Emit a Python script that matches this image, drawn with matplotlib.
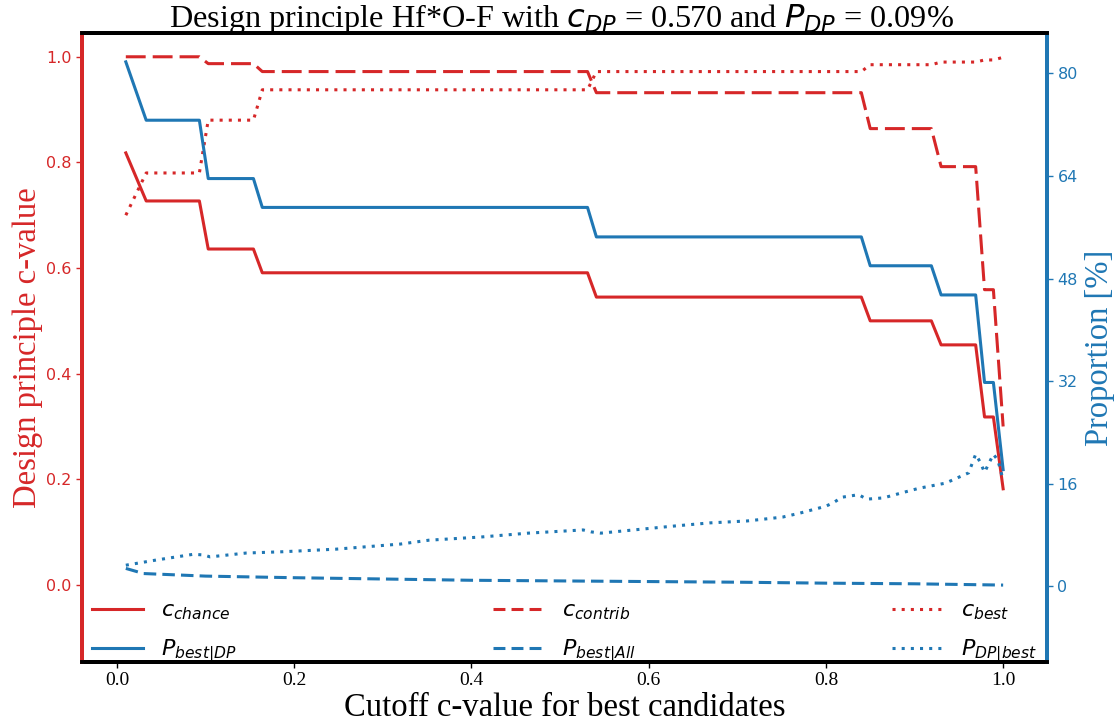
import matplotlib
matplotlib.use("Agg")
import matplotlib.pyplot as plt
from matplotlib.lines import Line2D

RED = "#d62728"
BLUE = "#1f77b4"
SERIF = "Liberation Serif"

# Step-function vertices shared by the c-value curves and P_best|DP
step_x = [0.01, 0.033, 0.093, 0.103, 0.154, 0.164, 0.531, 0.541,
          0.840, 0.850, 0.919, 0.930, 0.969, 0.979, 0.989, 1.000]
c_chance = [0.818, 0.727, 0.727, 0.636, 0.636, 0.591, 0.591, 0.545,
            0.545, 0.500, 0.500, 0.4545, 0.4545, 0.318, 0.318, 0.182]
c_contrib = [1.000, 1.000, 1.000, 0.987, 0.987, 0.972, 0.972, 0.932,
             0.932, 0.864, 0.864, 0.792, 0.792, 0.559, 0.559, 0.300]
c_best = [0.700, 0.780, 0.780, 0.880, 0.880, 0.9375, 0.9375, 0.972,
          0.972, 0.985, 0.985, 0.990, 0.990, 0.994, 0.994, 0.999]
p_best_dp = [81.8, 72.7, 72.7, 63.6, 63.6, 59.1, 59.1, 54.5,
             54.5, 50.0, 50.0, 45.45, 45.45, 31.8, 31.8, 18.2]

# P_best|All (percent)
all_x = [0.01, 0.03, 0.10, 0.20, 0.30, 0.40, 0.50, 0.60, 0.70, 0.80, 0.90, 1.00]
p_best_all = [2.8, 2.0, 1.6, 1.35, 1.15, 0.95, 0.85, 0.75, 0.65, 0.5, 0.4, 0.2]

# P_DP|best (percent)
dpb_x = [0.010, 0.044, 0.086, 0.098, 0.105, 0.146, 0.187, 0.247, 0.320,
         0.352, 0.411, 0.464, 0.526, 0.535, 0.546, 0.568, 0.628, 0.669,
         0.711, 0.751, 0.770, 0.800, 0.809, 0.818, 0.837, 0.846, 0.865,
         0.886, 0.905, 0.935, 0.961, 0.969, 0.974, 0.979, 0.989, 0.994, 1.000]
p_dp_best = [3.3, 4.1, 5.0, 4.9, 4.6, 5.2, 5.4, 5.8, 6.6,
             7.2, 7.7, 8.3, 8.8, 8.5, 8.3, 8.6, 9.4, 9.9,
             10.2, 10.8, 11.4, 12.5, 13.1, 13.9, 14.3, 13.6, 13.8,
             14.6, 15.3, 16.1, 17.7, 20.6, 19.4, 17.8, 20.6, 19.7, 16.6]

right_ticks = [0, 16, 32, 48, 64, 80]
left_ticks = [0.0, 0.2, 0.4, 0.6, 0.8, 1.0]
x_ticks = [0.0, 0.2, 0.4, 0.6, 0.8, 1.0]

LW = 2.2
RED_DASH = (0, (6.5, 2.3))
BLUE_DASH = (0, (4.1, 2.0))
KEY_DASH = (0, (3.9, 2.0))
DOT = (0, (1, 2.0))

fig = plt.figure(figsize=(11.18, 7.24), dpi=100)
ax = fig.add_axes([0.0733, 0.0856, 0.8632, 0.8688])
ax2 = ax.twinx()

ax.plot(step_x, c_chance, color=RED, lw=LW, ls="-")
ax.plot(step_x, c_contrib, color=RED, lw=LW, ls=RED_DASH)
ax.plot(step_x, c_best, color=RED, lw=LW, ls=DOT)
ax2.plot(step_x, p_best_dp, color=BLUE, lw=LW, ls="-")
ax2.plot(all_x, p_best_all, color=BLUE, lw=LW, ls=BLUE_DASH)
ax2.plot(dpb_x, p_dp_best, color=BLUE, lw=LW, ls=DOT)

ax.set_xlim(-0.0395, 1.0495)
ax.set_ylim(-0.146, 1.045)
ax2.set_ylim(-11.8, 86.3)

ax.set_xticks(x_ticks)
ax.set_xticklabels([f"{t:.1f}" for t in x_ticks], fontfamily=SERIF, fontsize=14)
ax.set_yticks(left_ticks)
ax.set_yticklabels([f"{t:.1f}" for t in left_ticks])
ax2.set_yticks(right_ticks)
ax2.set_yticklabels([str(t) for t in right_ticks])

ax.tick_params(axis="y", colors=RED, labelsize=11.5, length=4, width=1)
ax.tick_params(axis="x", colors="black", length=4, width=1)
ax2.tick_params(axis="y", colors=BLUE, labelsize=11.5, length=4, width=1)

for a in (ax, ax2):
    for s in a.spines.values():
        s.set_linewidth(2.8)
        s.set_color("black")
    a.spines["left"].set_color(RED)
    a.spines["right"].set_color(BLUE)

ax.set_xlabel("Cutoff c-value for best candidates", fontfamily=SERIF,
              fontsize=23.5, labelpad=2)
ax.set_ylabel("Design principle c-value", fontfamily=SERIF, fontsize=23.5,
              color=RED, labelpad=2)
ax2.set_ylabel("Proportion [%]", fontfamily=SERIF, fontsize=23.5,
               color=BLUE, labelpad=5)
fig.text(0.5025, 0.9625,
         r"Design principle Hf*O-F with $c_{DP}$ = 0.570 and $P_{DP}$ = 0.09%",
         fontfamily=SERIF, fontsize=23.2, ha="center", va="baseline")

# Legend keys (column-major order for a 3-column, 2-row layout)
key_styles = [(RED, "-"), (BLUE, "-"), (RED, KEY_DASH),
              (BLUE, KEY_DASH), (RED, DOT), (BLUE, DOT)]
handles = [Line2D([], [], color=c, lw=LW, ls=s) for c, s in key_styles]
labels = [r"$c_{chance}$", r"$P_{best|DP}$", r"$c_{contrib}$",
          r"$P_{best|All}$", r"$c_{best}$", r"$P_{DP|best}$"]
ax2.legend(handles, labels, ncol=3, mode="expand", loc="lower left",
           bbox_to_anchor=(0.008, -0.009, 0.984, 0.2), frameon=False,
           fontsize=16, handlelength=2.3, handletextpad=0.8,
           borderaxespad=0.0, borderpad=0.1, labelspacing=0.72)

fig.savefig("out.png", dpi=100)
